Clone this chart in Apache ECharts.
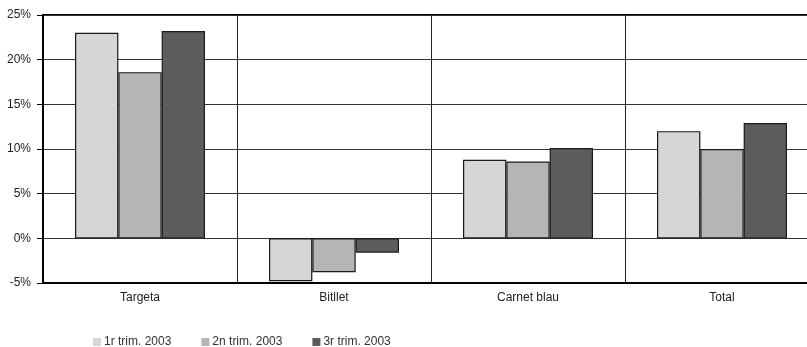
<!DOCTYPE html>
<html>
<head>
<meta charset="utf-8">
<script src="https://cdn.jsdelivr.net/npm/echarts@6/dist/echarts.min.js"></script>
<style>html,body{margin:0;padding:0;background:#fff;overflow:hidden;width:807px;height:347px}#c{width:830px;height:347px}</style>
</head>
<body>
<div id="c"></div>
<script>
const categories = ['Targeta', 'Bitllet', 'Carnet blau', 'Total'];
const seriesNames = ['1r trim. 2003', '2n trim. 2003', '3r trim. 2003'];
const q1 = [23.0, -4.8, 8.8, 12.0];
const q2 = [18.6, -3.8, 8.6, 10.0];
const q3 = [23.2, -1.6, 10.1, 12.9];
const colors = ['#d6d6d6', '#b5b5b5', '#5c5c5c'];

const font = 'Liberation Sans, Arial, sans-serif';
const chart = echarts.init(document.getElementById('c'), null, {renderer: 'canvas'});
const mk = (name, data, color) => ({
  name, type: 'bar', data,
  itemStyle: {color, borderColor: '#1a1a1a', borderWidth: 1.2},
  barGap: '0%', barCategoryGap: '33%', animation: false
});
chart.setOption({
  animation: false,
  color: colors,
  textStyle: {fontFamily: font},
  grid: {left: 43, right: 11, top: 15, bottom: 64, show: true, borderColor: '#000', borderWidth: 2, backgroundColor: 'transparent'},
  legend: {
    left: 88, top: 331, itemWidth: 8, itemHeight: 8, itemGap: 30,
    icon: 'rect',
    itemStyle: {borderWidth: 0},
    textStyle: {fontFamily: font, fontSize: 12, color: '#333', padding: [0, 0, 0, -2]},
    data: seriesNames
  },
  xAxis: {
    type: 'category', data: categories,
    axisLine: {onZero: false, lineStyle: {color: '#000', width: 2}},
    axisTick: {show: false},
    splitLine: {show: true, lineStyle: {color: '#222', width: 1}},
    axisLabel: {fontFamily: font, fontSize: 12, color: '#222', margin: 9}
  },
  yAxis: {
    type: 'value', min: -5, max: 25, interval: 5,
    axisLine: {show: true, lineStyle: {color: '#000', width: 2}},
    axisTick: {show: true, length: 6, lineStyle: {color: '#000'}},
    splitLine: {lineStyle: {color: '#333', width: 1}},
    axisLabel: {fontFamily: font, fontSize: 12, color: '#222', margin: 12, formatter: v => v + '%'}
  },
  series: [mk(seriesNames[0], q1, colors[0]), mk(seriesNames[1], q2, colors[1]), mk(seriesNames[2], q3, colors[2])]
});
</script>
</body>
</html>
